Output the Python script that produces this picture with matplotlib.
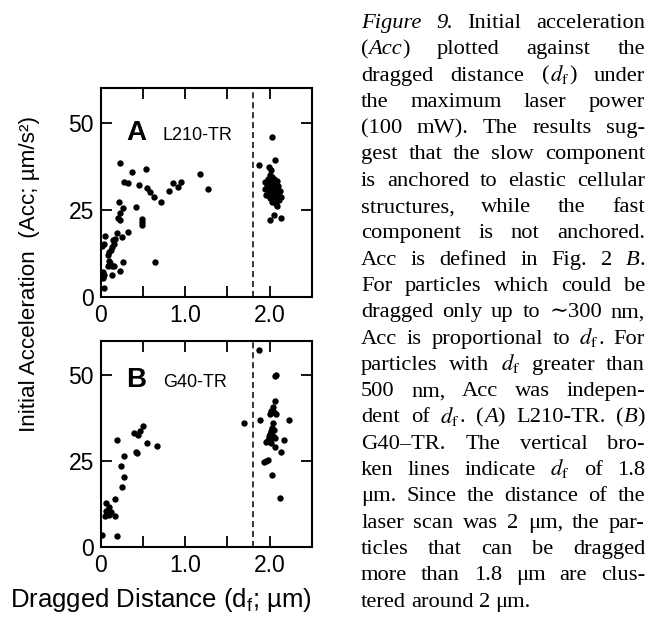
import re
import matplotlib
matplotlib.use('Agg')
import matplotlib.pyplot as plt

plt.rcParams['font.family'] = ['Liberation Sans', 'DejaVu Sans']
plt.rcParams['mathtext.fontset'] = 'stix'
plt.rcParams['mathtext.default'] = 'regular'

# L210-TR: dragged distance (um) vs initial acceleration (um/s^2)
a_x = [0.22, 0.37, 0.53, 0.27, 0.32, 0.45, 0.54, 0.58, 0.63, 0.71, 0.81, 0.85, 0.91, 0.95, 1.17, 1.27,
       0.21, 0.26, 0.23, 0.20, 0.23, 0.41, 0.49, 0.49, 0.49,
       0.32, 0.19, 0.25, 0.05, 0.17, 0.04, 0.15, 0.13, 0.12, 0.01, 0.08, 0.10, 0.08, 0.13, 0.16,
       0.26, 0.64, 0.22, 0.13, 0.04, 0.02, 0.04, 0.02, 0.11, 0.14, 0.09,
       2.03, 2.06, 1.87, 1.99, 2.02, 2.09, 2.05, 2.01, 2.13,
       2.00, 2.03, 1.98, 2.05, 2.01, 1.95, 2.08, 2.03, 1.97, 2.00, 2.10, 2.06, 1.94, 2.02, 2.12,
       1.99, 2.07, 2.04, 1.96, 2.10, 2.14, 2.01, 2.06, 2.11, 2.03, 2.08, 1.98, 2.05, 2.09, 2.02]
a_y = [38.4, 36.0, 36.9, 33.0, 32.7, 32.1, 31.2, 30.0, 28.8, 27.4, 30.4, 32.6, 31.5, 33.1, 35.2, 31.1,
       27.3, 25.4, 24.2, 22.6, 22.1, 25.8, 22.5, 21.5, 20.6,
       18.5, 18.4, 17.3, 17.4, 16.5, 15.3, 15.3, 14.2, 13.4, 14.5, 12.1, 10.2, 8.9, 8.7, 8.9,
       10.1, 10.1, 7.5, 6.3, 6.3, 5.3, 2.4, 7.0, 9.6, 16.3, 12.8,
       46.1, 39.5, 37.8, 37.3, 36.6, 26.2, 23.5, 22.1, 22.8,
       35.0, 34.6, 34.0, 33.8, 33.2, 33.0, 32.8, 32.3, 32.0, 31.6, 31.8, 31.2, 31.0, 30.6, 30.4,
       30.0, 29.8, 29.4, 29.2, 29.0, 28.6, 28.4, 28.0, 27.8, 27.2, 26.8, 31.8, 30.8, 33.2, 29.0]

# G40-TR
b_x = [0.50, 0.39, 0.46, 0.44, 0.55, 0.67, 0.19, 0.41, 0.43, 0.27, 0.24, 0.27, 0.25, 0.17,
       0.06, 0.09, 0.06, 0.12, 0.10, 0.05, 0.17, 0.01, 0.19, 0.08,
       1.87, 2.08, 2.06, 2.06, 2.04, 2.02, 2.05, 2.08, 2.01, 1.70, 1.89, 2.23, 2.04, 2.03,
       2.02, 2.01, 1.99, 1.98, 1.96, 2.00, 2.04, 2.06, 2.17, 2.06, 2.13, 1.93, 1.96, 1.98,
       2.03, 2.12, 2.02, 2.05]
b_y = [35.2, 33.1, 33.8, 32.6, 30.3, 29.2, 31.0, 27.5, 27.4, 26.5, 23.4, 20.3, 17.5, 13.9,
       12.7, 11.5, 10.5, 10.2, 9.3, 9.0, 8.8, 3.4, 3.1, 10.8,
       57.3, 50.1, 49.6, 42.3, 40.8, 39.4, 39.1, 38.7, 38.7, 36.0, 36.8, 37.0, 36.0, 34.6,
       33.6, 32.7, 32.2, 31.2, 30.4, 31.2, 32.2, 31.6, 31.0, 29.1, 27.5, 24.8, 25.1, 25.3,
       21.0, 14.3, 30.2, 34.0]

x_ticks = [0, 0.5, 1.0, 1.5, 2.0, 2.5]
x_ticklabels = ['0', '', '1.0', '', '2.0', '']
y_ticks = [0, 25, 50]
cutoff = 1.8

CAPTION = [
    "*Figure* *9.* Initial acceleration",
    "(*Acc*) plotted against the",
    "dragged distance ({df}) under",
    "the maximum laser power",
    "(100 mW). The results sug-",
    "gest that the slow component",
    "is anchored to elastic cellular",
    "structures, while the fast",
    "component is not anchored.",
    "Acc is defined in Fig. 2 *B*.",
    "For particles which could be",
    "dragged only up to \u223c300 nm,",
    "Acc is proportional to {df}. For",
    "particles with {df} greater than",
    "500 nm, Acc was indepen-",
    "dent of {df}. (*A*) L210-TR. (*B*)",
    "G40\u2013TR. The vertical bro-",
    "ken lines indicate {df} of 1.8",
    "\u03bcm. Since the distance of the",
    "laser scan was 2 \u03bcm, the par-",
    "ticles that can be dragged",
    "more than 1.8 \u03bcm are clus-",
    "tered around 2 \u03bcm.",
]

W, H = 660, 617
fig = plt.figure(figsize=(W / 100, H / 100), dpi=100)
ax_a = fig.add_axes([101 / W, 1 - 296.7 / H, 210.7 / W, 208.4 / H])
ax_b = fig.add_axes([101 / W, 1 - 546.7 / H, 210.7 / W, 206.0 / H])

for ax, xs, ys, big, small, yl in [(ax_a, a_x, a_y, 'A', 'L210-TR', 0.752),
                                    (ax_b, b_x, b_y, 'B', 'G40-TR', 0.774)]:
    ax.scatter(xs, ys, s=21, c='black', linewidths=0, zorder=3)
    ax.axvline(cutoff, color='black', lw=1.1, dashes=(4, 2.5))
    ax.set_xlim(0, 2.5)
    ax.set_ylim(0, 60)
    ax.set_xticks(x_ticks)
    ax.set_xticklabels(x_ticklabels)
    ax.set_yticks(y_ticks)
    ax.tick_params(direction='in', length=8, width=1.3, top=True, right=True,
                   labelsize=16.5, pad=5)
    for sp in ax.spines.values():
        sp.set_linewidth(1.5)
    ax.text(0.12, yl, big, transform=ax.transAxes, fontsize=20, fontweight='bold',
            va='baseline', ha='left')
    ax.text(0.294, yl, small, transform=ax.transAxes, fontsize=13,
            va='baseline', ha='left')

fig.text(30 / W, 1 - 274 / H, 'Initial Acceleration  (Acc; \u00b5m/s\u00b2)',
         rotation=90, ha='center', va='center', fontsize=16.2)
fig.text(161 / W, 1 - 600 / H, 'Dragged Distance (d$_f$; \u00b5m)',
         ha='center', va='center', fontsize=18.5)


# justified caption column
def segments(word):
    out = []
    for part in re.split(r'(\*[^*]+\*|\{df\})', word):
        if not part:
            continue
        if part == '{df}':
            out.append((r'$\mathit{d}_\mathrm{f}$', 'normal'))
        elif part.startswith('*'):
            out.append((part[1:-1], 'italic'))
        else:
            out.append((part, 'normal'))
    return out


renderer = fig.canvas.get_renderer()
left_px, right_px = 361, 645
for i, line in enumerate(CAPTION):
    y = 1 - (28 + 26.3 * i) / H
    words = []
    for w in line.split(' '):
        texts = [fig.text(0, y, s, fontstyle=st, fontsize=16.2, va='baseline',
                          family=['Liberation Serif', 'DejaVu Serif'])
                 for s, st in segments(w)]
        widths = [t.get_window_extent(renderer).width for t in texts]
        words.append((texts, widths))
    total = sum(sum(ws) for _, ws in words)
    if i < len(CAPTION) - 1 and len(words) > 1:
        gap = (right_px - left_px - total) / (len(words) - 1)
    else:
        gap = 5.0
    x = left_px
    for texts, widths in words:
        for t, wd in zip(texts, widths):
            t.set_x(x / W)
            x += wd
        x += gap

fig.savefig('out.png', dpi=100)
